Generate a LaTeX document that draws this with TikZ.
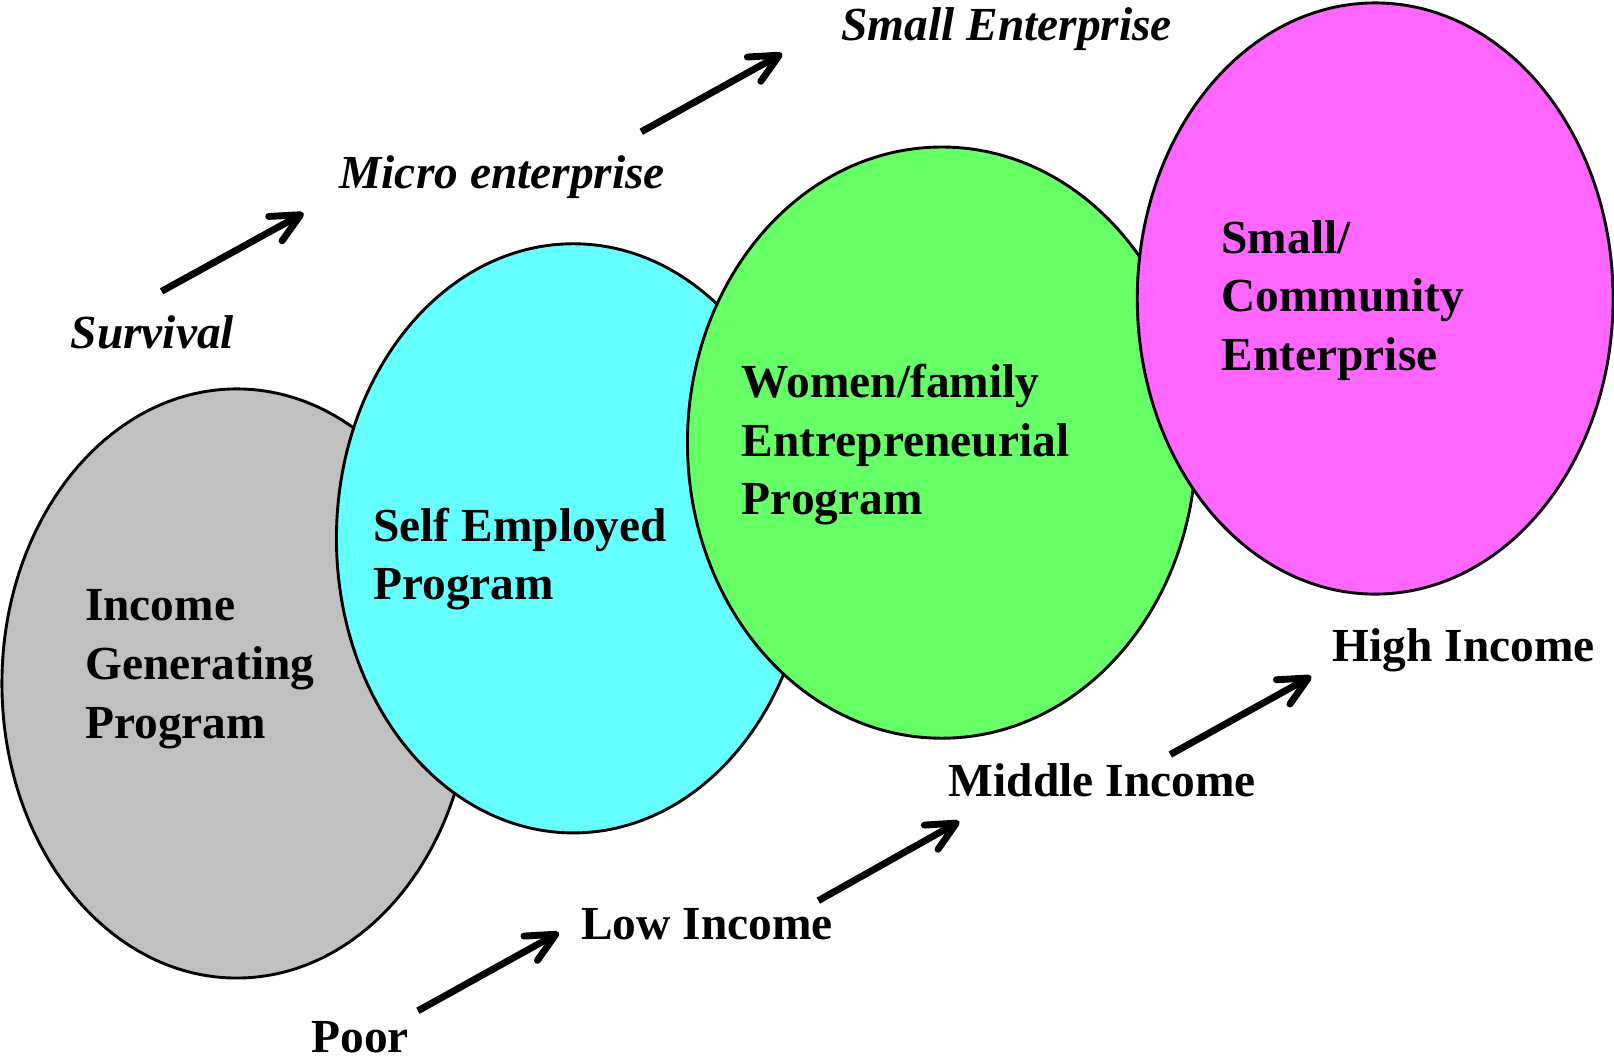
\documentclass[tikz,border=0pt]{standalone}
\usepackage{fontspec}
\setmainfont{Liberation Serif}
\usetikzlibrary{arrows.meta}
\definecolor{igpgray}{HTML}{C0C0C0}
\definecolor{sepcyan}{HTML}{66FFFF}
\definecolor{wfegreen}{HTML}{66FF66}
\definecolor{scepink}{HTML}{FF66FF}
\begin{document}
\begin{tikzpicture}
      [x=0.01cm,y=-0.01cm,
       blob/.style={draw=black,line width=0.8pt},
       every node/.style={font=\fontsize{13.1}{16.2}\selectfont\bfseries,inner sep=0pt},
       prog/.style={anchor=west,align=left},
       stage/.style={font=\fontsize{13.1}{16.2}\selectfont\bfseries\itshape},
       arr/.style={line width=1.9pt,-{Straight Barb[length=2.8mm,width=2.7mm,round]}}]
      \useasboundingbox (0,0) rectangle (1568,1033);

      \path [blob,fill=igpgray]  (230,664)  ellipse [x radius=2.28cm,y radius=2.86cm];
      \path [blob,fill=sepcyan]  (557,523)  ellipse [x radius=2.30cm,y radius=2.86cm];
      \path [blob,fill=wfegreen] (915,430)  ellipse [x radius=2.47cm,y radius=2.87cm];
      \path [blob,fill=scepink]  (1336,290) ellipse [x radius=2.31cm,y radius=2.87cm];

      \node [prog] (igp) at (82,650)   {Income\\Generating\\Program};
      \node [prog] (sep) at (362,543)  {Self Employed\\Program};
      \node [prog] (wfe) at (720,432)  {Women/family\\Entrepreneurial\\Program};
      \node [prog] (sce) at (1186,292) {Small/\\Community\\Enterprise};

      \node [stage] (surv)  at (148,323) {Survival};
      \node [stage] (micro) at (488,172) {Micro enterprise};
      \node [stage] (small) at (978,28)  {Small Enterprise};

      \node (poor) at (350,1008) {Poor};
      \node (low)  at (687,898)  {Low Income};
      \node (mid)  at (1071,758) {Middle Income};
      \node (high) at (1422,632) {High Income};

      \foreach \from/\fx/\fy/\to/\tx/\ty in {surv/9/-40/micro/-193/35, micro/135/-44/small/-218/24,
            poor/56/-26/low/-144/8, low/108/-23/mid/-139/40, mid/66/-25/high/-148/25}
      \draw [arr] ([shift={(\fx,\fy)}]\from.center) -- ([shift={(\tx,\ty)}]\to.center);
    \end{tikzpicture}
\end{document}
